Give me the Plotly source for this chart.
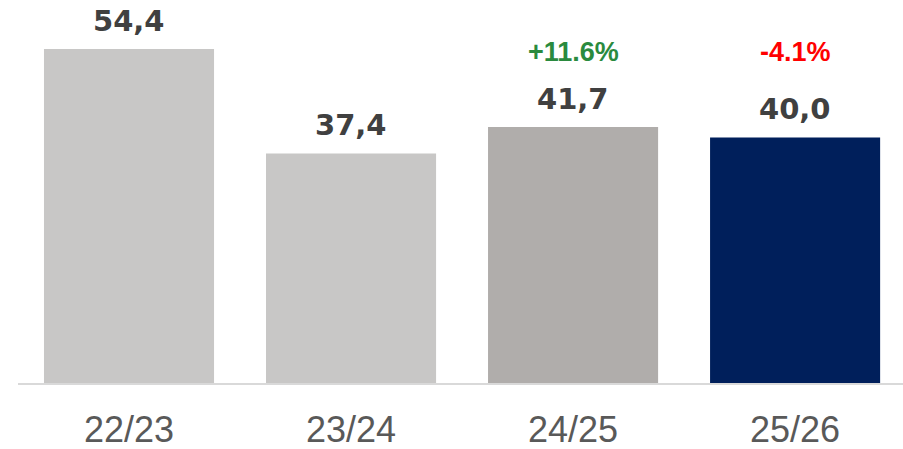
import plotly.graph_objects as go

categories = ["22/23", "23/24", "24/25", "25/26"]
values = [54.4, 37.4, 41.7, 40.0]
value_labels = ["54,4", "37,4", "41,7", "40,0"]
bar_colors = ["#c8c7c6", "#c8c7c6", "#b0adab", "#001f5b"]
pct_labels = [None, None, "+11.6%", "-4.1%"]
pct_colors = [None, None, "#2a8a3e", "#ff0000"]

W, H = 903, 449
mt, mb, ml, mr = 0, 66, 18, 0
plot_h = H - mt - mb
ymax = 62.4

fig = go.Figure(go.Bar(
    x=categories, y=values, marker=dict(color=bar_colors, line=dict(width=0)),
    hoverinfo="skip",
))

annotations = []
for c, v, lab in zip(categories, values, value_labels):
    annotations.append(dict(x=c, y=v, xref="x", yref="y", text=lab, showarrow=False,
                            yanchor="middle", yshift=28,
                            font=dict(family="DejaVu Sans", size=29, color="#404040", weight="bold")))
for c, p, col in zip(categories, pct_labels, pct_colors):
    if p:
        annotations.append(dict(x=c, y=1 - 52 / plot_h, xref="x", yref="paper", text=p,
                                showarrow=False, yanchor="middle",
                                font=dict(family="Liberation Sans", size=27, color=col, weight="bold")))

fig.update_layout(
    width=W, height=H,
    margin=dict(l=ml, r=mr, t=mt, b=mb),
    paper_bgcolor="white", plot_bgcolor="white",
    bargap=0.234, showlegend=False,
    annotations=annotations,
    xaxis=dict(showline=True, linecolor="#d9d9d9", linewidth=1.5, showgrid=False,
               range=[-0.5, 3.486],
               ticks="", ticklabelstandoff=14, automargin=False,
               tickfont=dict(family="Liberation Sans", size=36, color="#595959")),
    yaxis=dict(visible=False, range=[0, ymax], showgrid=False, zeroline=False, automargin=False),
)

fig.write_html("out.html", config={"displayModeBar": False},
               post_script="document.body.style.margin='0';document.body.style.overflow='hidden';")
